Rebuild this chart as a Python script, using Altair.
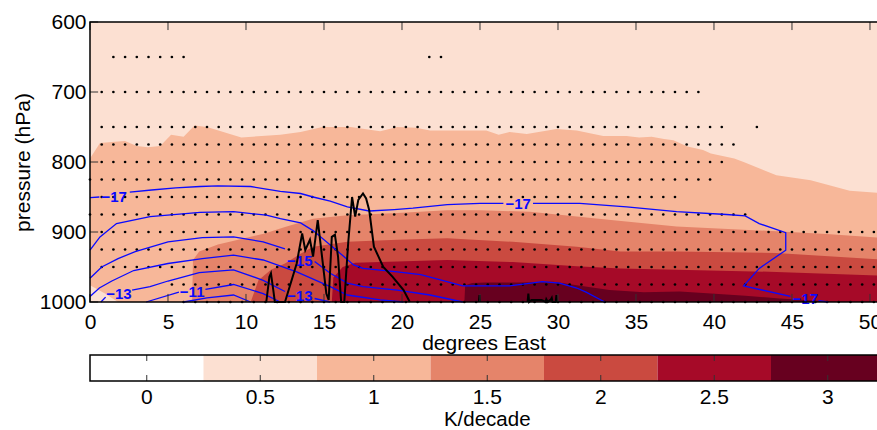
import altair as alt
import pandas as pd
import numpy as np

# ---------------- data ----------------
LON_MAX = 50.45
x_ticks = [0, 5, 10, 15, 20, 25, 30, 35, 40, 45, 50]
p_ticks = [600, 700, 800, 900, 1000]
levels = [0, 0.5, 1, 1.5, 2, 2.5, 3]
level_labels = ["0", "0.5", "1", "1.5", "2", "2.5", "3"]
colors = ["#ffffff", "#fce0d2", "#f7b799", "#e5846a", "#ca4a40", "#a60a28", "#67001f"]

# top edges (pressure) of the filled trend regions, each filled down to 1000 hPa
lvl1_lon = [0, 0.64, 1.6, 2.24, 3.0, 3.7, 4.5, 5.2, 6.0, 6.7, 7.5, 9.7, 12.2, 13.5, 14.9, 16.7, 18.6,
            19.7, 20.9, 21.8, 25.4, 26.2, 26.9, 28.0, 29.9, 31.2, 32.9, 34.4, 35.2, 36.0, 36.8, 37.4,
            38.3, 39.3, 39.8, 41.3, 41.9, 44.0, 46.2, 48.7, 50.45, 51.5]
lvl1_p = [795, 773, 771, 770, 777, 779, 777, 761, 764, 748, 750, 765, 761, 757, 750, 750, 756,
          750, 751, 755, 755, 761, 757, 760, 753, 755, 763, 763, 765, 764, 767, 769,
          778, 783, 788, 795, 800, 819, 826, 841, 844, 844]
low_lon = [0, 0.96, 1.8]          # small weaker patch in the lower-left corner
low_p = [976, 988, 1000]
lvl15_lon = [6.55, 6.6, 7.0, 8.2, 9.5, 11.2, 12.5, 14.3, 16.5, 19.7, 22.9, 25.0, 28.2, 31.2, 33.4,
             37.6, 44.0, 47.2, 50.45, 51.5]
lvl15_p = [1000, 940, 928, 918, 911, 902, 893, 881, 876, 873, 869, 869, 871, 878, 883,
           892, 899, 903, 908, 908]
lvl2_lon = [10.3, 10.8, 11.6, 12.5, 13.5, 14.3, 16.5, 19.7, 22.9, 27.1, 31.2, 34.0, 37.6, 44.0, 50.45, 51.5]
lvl2_p = [1000, 969, 954, 945, 931, 921, 914, 911, 909, 914, 921, 928, 928, 930, 939, 939]
lvl25_lon = [15.5, 15.6, 16.2, 17.0, 19.7, 22.9, 27.1, 31.2, 34.0, 37.6, 44.0, 50.45, 51.5]
lvl25_p = [1000, 965, 950, 944, 942, 940, 943, 949, 952, 954, 957, 962, 962]
lvl3_lon = [24.0, 24.05, 24.5, 25.4, 27.6, 29.7, 31.2, 33.3, 35.5, 37.8, 39.8, 42.0, 44.2, 46.3, 48.0]
lvl3_p = [1000, 976, 973, 972, 972, 971, 976, 983, 986, 985, 988, 991, 995, 998, 1000]

# stippling rows on the 0.75 degree grid: pressure, first and last longitude
dot_p = [650, 650, 700, 750, 750, 775, 800, 825, 850, 875, 900, 925, 950, 975, 1000]
dot_start = [1.5, 21.75, 0.75, 0.75, 42.75, 0.75, 0.75, 0.0, 0.75, 0.0, 0.75, 0.75, 0.75, 5.25, 6.0]
dot_end = [6.0, 22.5, 39.0, 40.5, 42.75, 41.25, 40.5, 39.75, 37.5, 42.0, 50.25, 50.25, 50.25, 50.25, 50.25]
GRID = 0.75

# blue contour lines (segments broken at the labels)
blue_segments = {
    "A1": ([0, 0.6], [851, 850]),
    "A2": ([2.55, 3.95, 5.5, 7.05, 8.2, 10.3, 12.2, 13.5, 14.3, 15.4, 16.5, 17.9, 19.5, 20.7, 22.9, 25.0, 26.5],
           [843, 840, 837, 835, 834, 835, 842, 845, 850, 856, 864, 870, 868, 866, 861, 859, 859]),
    "A3": ([28.4, 29.3, 31.4, 34.4, 37.6, 40.8, 42.0, 42.9, 44.6, 44.6, 42.9, 41.9, 44.9],
           [859, 859, 859, 864, 871, 875, 877, 888, 901, 926, 952, 977, 992]),
    "A4": ([46.7, 47.3], [998, 1000]),
    "B": ([0, 0.64, 1.7, 3.85, 7.05, 9.2, 11.3, 12.2, 13.5, 14.3, 15.8, 16.9, 17.5, 19.7, 21.2, 23.9, 26.9,
           29.0, 30.1, 31.2, 31.8, 33.0],
          [926, 907, 888, 878, 872, 871, 876, 881, 887, 898, 926, 947, 952, 957, 961, 977, 977,
           971, 973, 980, 986, 1000]),
    "C1": ([0, 0.75, 1.8, 2.9, 5.0, 7.2, 9.2, 11.1, 12.5], [966, 950, 938, 928, 914, 908, 907, 914, 924]),
    "C2": ([14.4, 15.4, 16.5, 17.5, 19.7, 21.8, 23.9], [942, 959, 973, 978, 983, 990, 1000]),
    "D": ([0, 0.6, 1.4, 2.8, 5.0, 7.2, 9.2, 11.1, 13.25, 15.4, 16.5, 18.6, 20.1],
          [992, 980, 970, 955, 945, 938, 933, 940, 957, 978, 990, 997, 1000]),
    "E1": ([0.7, 1.0], [1000, 993]),
    "E2": ([2.7, 3.85, 5.0, 7.0, 9.2, 11.1, 12.5], [983, 978, 970, 958, 954, 969, 985]),
    "E3": ([14.4, 15.4], [995, 1000]),
    "F1": ([3.6, 5.7], [1000, 986]),
    "F2": ([7.4, 9.2, 11.1, 12.2], [982, 975, 988, 1000]),
    "G": ([6.0, 7.5, 9.2, 10.3], [1000, 994, 990, 1000]),
}
lab_lon = [1.55, 27.45, 45.85, 1.85, 6.55, 13.45, 13.45]
lab_p = [850, 860, 996, 988, 985, 941, 992]
lab_text = ["\u221217", "\u221217", "\u221217", "\u221213", "\u221211", "\u221215", "\u221213"]

# black line (surface / orography trace)
topo_segments = {
    "main": ([11.3, 11.5, 11.6, 11.75, 11.85, 12.5, 13.25, 13.6, 13.8, 14.1, 14.3, 14.6, 14.8, 15.15, 15.3,
              15.5, 15.7, 15.9, 16.1, 16.3, 16.55, 16.8, 17.0, 17.2, 17.5, 17.7, 17.9, 18.2, 18.8, 19.4,
              20.1, 20.5],
             [1000, 964, 959, 983, 1000, 1000, 945, 902, 926, 911, 935, 883, 921, 988, 997,
              907, 904, 935, 1000, 1000, 916, 850, 878, 854, 845, 852, 869, 921, 950, 964,
              983, 1000]),
    "b1": ([24.93, 24.97, 25.0], [1000, 990, 1000]),
    "b2": ([28.05, 28.1, 28.15, 28.3, 28.95, 29.2, 29.25, 29.35, 29.55, 29.6, 29.65, 29.85, 29.9, 29.95],
           [1000, 988, 1000, 997, 997, 1000, 996, 1000, 996, 994, 1000, 1000, 990, 1000]),
}

# ---------------- layout of the colour bar in plot units ----------------
PX_PER_DEG = 787 / LON_MAX         # main x scale
PX_PER_HPA = 280 / 400             # main y scale
CB_PX_PER_UNIT = 227               # colour bar: 1 K/decade
CB_TOP_PX, CB_BOT_PX = 333, 359    # colour bar top / bottom, from top of plot


def cb_x(v):
    return f"({v} + 0.25) * {CB_PX_PER_UNIT / PX_PER_DEG}"


def cb_y(frac):
    return 600 + (CB_TOP_PX + frac * (CB_BOT_PX - CB_TOP_PX)) / PX_PER_HPA


# ---------------- scales / axes ----------------
FONT = "Liberation Sans"
FS = 21
xs = alt.Scale(domain=[0, LON_MAX], nice=False, zero=False)
ys = alt.Scale(domain=[600, 1000], range=[0, 280], nice=False, zero=False)

x_axis = alt.Axis(values=x_ticks, orient="bottom", offset=-79, title="degrees East", titleFontSize=FS,
                  titleFontWeight="normal", titlePadding=0, titleColor="black", labelFontSize=FS,
                  labelPadding=9, labelColor="black", labelFlush=False, labelOverlap=False,
                  ticks=False, tickSize=0, domain=False, grid=False, format="d")
y_axis = alt.Axis(values=p_ticks, orient="left", title="pressure (hPa)", titleFontSize=FS,
                  titleFontWeight="normal", titlePadding=6, titleColor="black", labelFontSize=FS,
                  labelPadding=4, labelColor="black", labelOverlap=False, ticks=False, tickSize=0,
                  domain=False, grid=False, format="d")

# every layer carries the same axis definition so that the shared axes merge cleanly
X = lambda f: alt.X(f, scale=xs, axis=x_axis)
Y = lambda f: alt.Y(f, scale=ys, axis=y_axis)


def xy_df(lon, p):
    return pd.DataFrame({"lon": lon, "p": p, "base": [1000] * len(lon)})


def fill_layer(lon, p, color):
    return alt.Chart(xy_df(lon, p)).mark_area(color=color).encode(
        x=X("lon:Q"), y=Y("p:Q"), y2="base:Q")


frame_df = pd.DataFrame({"x0": [0.0], "x1": [LON_MAX + 1], "p0": [600], "p1": [1000]})
bg = alt.Chart(frame_df).mark_rect(color=colors[1]).encode(
    x=X("x0:Q"), x2="x1:Q", y=Y("p0:Q"), y2="p1:Q")

fills = [
    fill_layer(lvl1_lon, lvl1_p, colors[2]),
    fill_layer(low_lon, low_p, colors[1]),
    fill_layer(lvl15_lon, lvl15_p, colors[3]),
    fill_layer(lvl2_lon, lvl2_p, colors[4]),
    fill_layer(lvl25_lon, lvl25_p, colors[5]),
    fill_layer(lvl3_lon, lvl3_p, colors[6]),
]

dot_rows = []
for p, a, b in zip(dot_p, dot_start, dot_end):
    n = int(round((b - a) / GRID)) + 1
    for k in range(n):
        dot_rows.append({"lon": a + GRID * k, "p": p})
dots = alt.Chart(pd.DataFrame(dot_rows)).mark_circle(size=7, color="black", opacity=1).encode(
    x=X("lon:Q"), y=Y("p:Q"))

blue_rows = []
for seg, (lo, pp) in blue_segments.items():
    for i, (a, b) in enumerate(zip(lo, pp)):
        blue_rows.append({"seg": seg, "i": i, "lon": a, "p": b})
blue = alt.Chart(pd.DataFrame(blue_rows)).mark_line(color="#0a0aff", strokeWidth=1.3).encode(
    x=X("lon:Q"), y=Y("p:Q"), detail="seg:N", order="i:Q")

labels = alt.Chart(pd.DataFrame({"lon": lab_lon, "p": lab_p, "t": lab_text})).mark_text(
    color="#0a0aff", font=FONT, fontSize=15, fontWeight="bold").encode(
    x=X("lon:Q"), y=Y("p:Q"), text="t:N")

topo_rows = []
for seg, (lo, pp) in topo_segments.items():
    for i, (a, b) in enumerate(zip(lo, pp)):
        topo_rows.append({"seg": seg, "i": i, "lon": a, "p": b})
topo = alt.Chart(pd.DataFrame(topo_rows)).mark_line(color="black", strokeWidth=2).encode(
    x=X("lon:Q"), y=Y("p:Q"), detail="seg:N", order="i:Q")

xtick_df = pd.DataFrame({"v": x_ticks})
xt_bottom = alt.Chart(xtick_df).transform_calculate(a="1000", b="988.5").mark_rule(
    color="#333333", strokeWidth=1).encode(x=X("v:Q"), y=Y("a:Q"), y2="b:Q")
xt_top = alt.Chart(xtick_df).transform_calculate(a="600", b="611.5").mark_rule(
    color="#333333", strokeWidth=1).encode(x=X("v:Q"), y=Y("a:Q"), y2="b:Q")
yt = alt.Chart(pd.DataFrame({"v": p_ticks})).transform_calculate(a="0", b="0.52").mark_rule(
    color="#333333", strokeWidth=1).encode(y=Y("v:Q"), x=X("a:Q"), x2="b:Q")

frame = alt.Chart(frame_df).mark_rect(fillOpacity=0, stroke="black", strokeWidth=1.5).encode(
    x=X("x0:Q"), x2="x1:Q", y=Y("p0:Q"), y2="p1:Q")

# ---------------- colour bar (same view, mapped into plot units) ----------------
cb_df = pd.DataFrame({"level": levels, "label": level_labels})
cb_rects = alt.Chart(cb_df).transform_calculate(
    x0=cb_x("datum.level - 0.25"), x1=cb_x("datum.level + 0.25"),
    y0=str(cb_y(0)), y1=str(cb_y(1))).mark_rect().encode(
    x=X("x0:Q"), x2="x1:Q", y=Y("y0:Q"), y2="y1:Q",
    color=alt.Color("level:O", scale=alt.Scale(domain=levels, range=colors), legend=None))
cb_t1 = alt.Chart(cb_df).transform_calculate(
    xv=cb_x("datum.level"), y0=str(cb_y(0)), y1=str(cb_y(0.23))).mark_rule(
    color="#333333", strokeWidth=1).encode(x=X("xv:Q"), y=Y("y0:Q"), y2="y1:Q")
cb_t2 = alt.Chart(cb_df).transform_calculate(
    xv=cb_x("datum.level"), y0=str(cb_y(0.77)), y1=str(cb_y(1))).mark_rule(
    color="#333333", strokeWidth=1).encode(x=X("xv:Q"), y=Y("y0:Q"), y2="y1:Q")
cb_frame = alt.Chart(pd.DataFrame({"a": [-0.25], "b": [3.7]})).transform_calculate(
    x0=cb_x("datum.a"), x1=cb_x("datum.b"), y0=str(cb_y(0)), y1=str(cb_y(1))).mark_rect(
    fillOpacity=0, stroke="black", strokeWidth=1.5).encode(x=X("x0:Q"), x2="x1:Q", y=Y("y0:Q"), y2="y1:Q")
cb_labels = alt.Chart(cb_df).transform_calculate(
    xv=cb_x("datum.level"), yv=str(cb_y(1.67))).mark_text(
    font=FONT, fontSize=FS, color="black", baseline="middle").encode(x=X("xv:Q"), y=Y("yv:Q"), text="label:N")
cb_title = alt.Chart(pd.DataFrame({"t": ["K/decade"], "mid": [1.5]})).transform_calculate(
    xv=cb_x("datum.mid"), yv=str(cb_y(2.485))).mark_text(
    font=FONT, fontSize=20.5, color="black", baseline="middle").encode(x=X("xv:Q"), y=Y("yv:Q"), text="t:N")

chart = alt.layer(bg, *fills, dots, blue, labels, topo, xt_bottom, xt_top, yt, frame,
                  cb_rects, cb_t1, cb_t2, cb_frame, cb_labels, cb_title).properties(
    width=787, height=359,
    autosize=alt.AutoSizeParams(type="none"),
    padding={"left": 90, "top": 22, "right": 0, "bottom": 49},
).configure(font=FONT).configure_view(strokeWidth=0)

chart.save("out.html", embed_options={"renderer": "svg", "actions": False})
